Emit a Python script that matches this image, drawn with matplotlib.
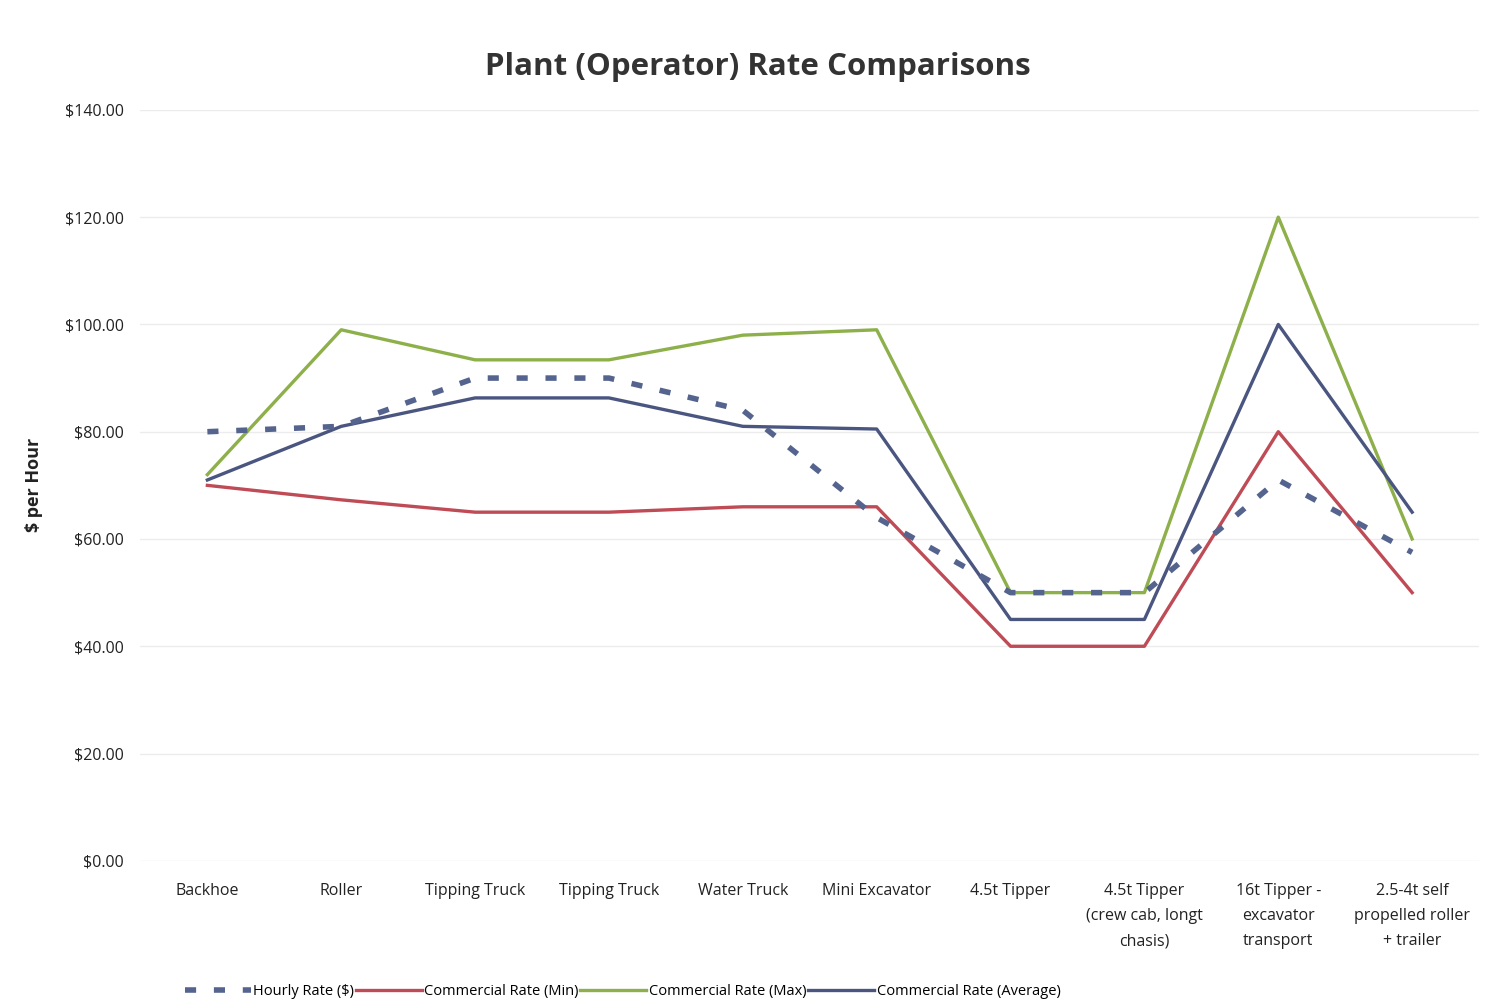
import matplotlib.pyplot as plt
import numpy as np
from matplotlib.ticker import FuncFormatter

plt.rcParams['font.family'] = ['Open Sans', 'DejaVu Sans']

categories = ['Backhoe', 'Roller', 'Tipping Truck', 'Tipping Truck', 'Water Truck',
              'Mini Excavator', '4.5t Tipper', '4.5t Tipper\n(crew cab, longt\nchasis)',
              '16t Tipper -\nexcavator\ntransport', '2.5-4t self\npropelled roller\n+ trailer']
hourly = [80, 81, 90, 90, 84, 64, 50, 50, 71, 57.5]
comm_min = [70, 67.3, 65, 65, 66, 66, 40, 40, 80, 50]
comm_max = [72, 99, 93.4, 93.4, 98, 99, 50, 50, 120, 60]
comm_avg = [71, 81, 86.3, 86.3, 81, 80.5, 45, 45, 100, 65]

fig = plt.figure(figsize=(14.94, 10.08), dpi=100)
ax = fig.add_axes([0.094, 0.146, 0.896, 0.745])

x = np.arange(len(categories))
ax.plot(x, hourly, color='#55648e', lw=4, dashes=(2, 3.2), label='Hourly Rate ($)', zorder=4)
ax.plot(x, comm_min, color='#be4b55', lw=2.4, label='Commercial Rate (Min)')
ax.plot(x, comm_max, color='#8db04a', lw=2.4, label='Commercial Rate (Max)')
ax.plot(x, comm_avg, color='#4a5680', lw=2.4, label='Commercial Rate (Average)')

ax.set_xlim(-0.5, len(categories) - 0.5)
ax.set_ylim(0, 140)
ax.set_yticks(np.arange(0, 141, 20))
ax.yaxis.set_major_formatter(FuncFormatter(lambda v, p: f'${v:.2f}'))
ax.set_xticks(x)
ax.set_xticklabels(categories, fontsize=11.5, linespacing=1.75, color='#222222')
ax.tick_params(axis='y', labelsize=11.5, colors='#222222', length=0, pad=12)
ax.tick_params(axis='x', length=0, pad=16)
ax.grid(axis='y', color='#ececec', lw=1)
for s in ax.spines.values():
    s.set_visible(False)

ax.set_ylabel('$ per Hour', fontsize=13, fontweight='bold', labelpad=16, color='#222222')
fig.suptitle('Plant (Operator) Rate Comparisons', fontsize=22.5, fontweight='bold',
             color='#333333', x=0.507, y=0.948)

fig.legend(loc='lower left', bbox_to_anchor=(0.115, -0.004), ncol=4, frameon=False,
           fontsize=10.5, handlelength=4.5, handletextpad=0.2, columnspacing=0.1)

fig.savefig('out.png', dpi=100)
